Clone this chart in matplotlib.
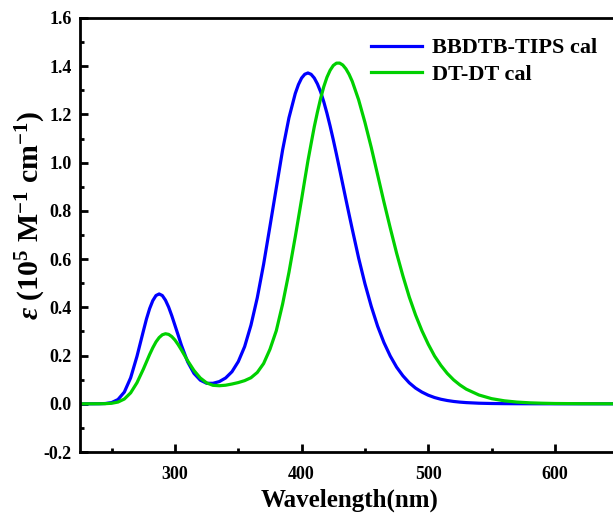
import matplotlib.pyplot as plt
from matplotlib.ticker import MultipleLocator

# wavelength grid (nm) and values (1e5 M^-1 cm^-1)
wavelength = [
    225, 230, 235, 240, 245, 250, 255, 260, 265, 270,
    275, 277.5, 280, 282.5, 285, 287.5, 290, 292.5, 295, 297.5,
    300, 302.5, 305, 310, 315, 320, 325, 330, 335, 340,
    345, 350, 355, 360, 365, 370, 375, 380, 385, 390,
    395, 397.5, 400, 402.5, 405, 407.5, 410, 412.5, 415, 417.5,
    420, 422.5, 425, 427.5, 430, 432.5, 435, 437.5, 440, 445,
    450, 455, 460, 465, 470, 475, 480, 485, 490, 495,
    500, 505, 510, 515, 520, 525, 530, 540, 550, 560,
    570, 580, 590, 600, 620, 650,
]

bbdtb_tips = [
    0.0, 0.0, 0.0, 0.0002, 0.0011, 0.0051, 0.0177, 0.0484, 0.1078, 0.197,
    0.301, 0.352, 0.395, 0.428, 0.449, 0.4555, 0.449, 0.4296, 0.401, 0.365,
    0.325, 0.285, 0.244, 0.174, 0.126, 0.098, 0.085, 0.085, 0.092, 0.107,
    0.133, 0.175, 0.237, 0.326, 0.440, 0.579, 0.736, 0.895, 1.053, 1.186,
    1.287, 1.324, 1.351, 1.3667, 1.372, 1.3664, 1.351, 1.3264, 1.294, 1.2526,
    1.205, 1.152, 1.095, 1.035, 0.973, 0.910, 0.847, 0.785, 0.724, 0.605,
    0.498, 0.404, 0.322, 0.254, 0.198, 0.152, 0.116, 0.087, 0.065, 0.0485,
    0.0356, 0.0259, 0.0188, 0.0136, 0.0097, 0.0069, 0.0049, 0.0024, 0.0012, 0.0006,
    0.0003, 0.0001, 0.0, 0.0, 0.0, 0.0,
]

dt_dt = [
    0.0, 0.0, 0.0, 0.0001, 0.0005, 0.0021, 0.0072, 0.0197, 0.0454, 0.0875,
    0.1434, 0.174, 0.2046, 0.2325, 0.2566, 0.2746, 0.2862, 0.2905, 0.2878, 0.2786,
    0.2643, 0.2455, 0.2243, 0.1786, 0.138, 0.1069, 0.0867, 0.0766, 0.0749, 0.077,
    0.082, 0.088, 0.096, 0.108, 0.130, 0.167, 0.226, 0.303, 0.414, 0.545,
    0.693, 0.771, 0.849, 0.929, 1.008, 1.079, 1.149, 1.210, 1.266, 1.315,
    1.354, 1.383, 1.403, 1.4127, 1.413, 1.405, 1.389, 1.3662, 1.337, 1.261,
    1.167, 1.063, 0.950, 0.837, 0.729, 0.625, 0.530, 0.443, 0.368, 0.303,
    0.247, 0.198, 0.159, 0.126, 0.0993, 0.0781, 0.0607, 0.0365, 0.0213, 0.0124,
    0.0071, 0.0040, 0.0023, 0.0012, 0.0004, 0.0,
]

labels = ["BBDTB-TIPS cal", "DT-DT cal"]

plt.rcParams["font.family"] = "Liberation Serif"
plt.rcParams["font.weight"] = "bold"
plt.rcParams["mathtext.fontset"] = "custom"
plt.rcParams["mathtext.rm"] = "Liberation Serif:bold"
plt.rcParams["mathtext.bf"] = "Liberation Serif:bold"
plt.rcParams["mathtext.it"] = "Liberation Serif:italic:bold"

fig = plt.figure(figsize=(6.13, 5.14), dpi=100)
ax = fig.add_axes([0.1305, 0.1206, 0.878, 0.8444])

ax.plot(wavelength, bbdtb_tips, color="#0000ff", lw=2.3, label=labels[0])
ax.plot(wavelength, dt_dt, color="#00d000", lw=2.3, label=labels[1])

ax.set_xlim(225, 650)
ax.set_ylim(-0.2, 1.6)
ax.xaxis.set_major_locator(MultipleLocator(100))
ax.xaxis.set_minor_locator(MultipleLocator(50))
ax.yaxis.set_major_locator(MultipleLocator(0.2))
ax.yaxis.set_minor_locator(MultipleLocator(0.1))
ax.yaxis.set_major_formatter(plt.FuncFormatter(lambda v, p: f"{v:.1f}"))

for s in ax.spines.values():
    s.set_linewidth(2.0)
ax.tick_params(which="major", direction="in", length=6, width=2.0, labelsize=13, pad=6)
ax.tick_params(which="minor", direction="in", length=3, width=2.0)
ax.tick_params(axis="x", pad=10)

ax.set_xlabel("Wavelength(nm)", fontsize=18, fontweight="bold", labelpad=4)
ax.set_ylabel(r"$\it{\varepsilon}$ (10$^{5}$ M$^{-1}$ cm$^{-1}$)", fontsize=21.5,
              fontweight="bold")
ax.yaxis.set_label_coords(-0.06, 0.545)

ax.legend(loc="upper left", bbox_to_anchor=(0.515, 0.985), frameon=False,
          fontsize=16, handlelength=2.3, handletextpad=0.45, labelspacing=0.25,
          borderaxespad=0.2)

fig.savefig("out.png", dpi=100)
